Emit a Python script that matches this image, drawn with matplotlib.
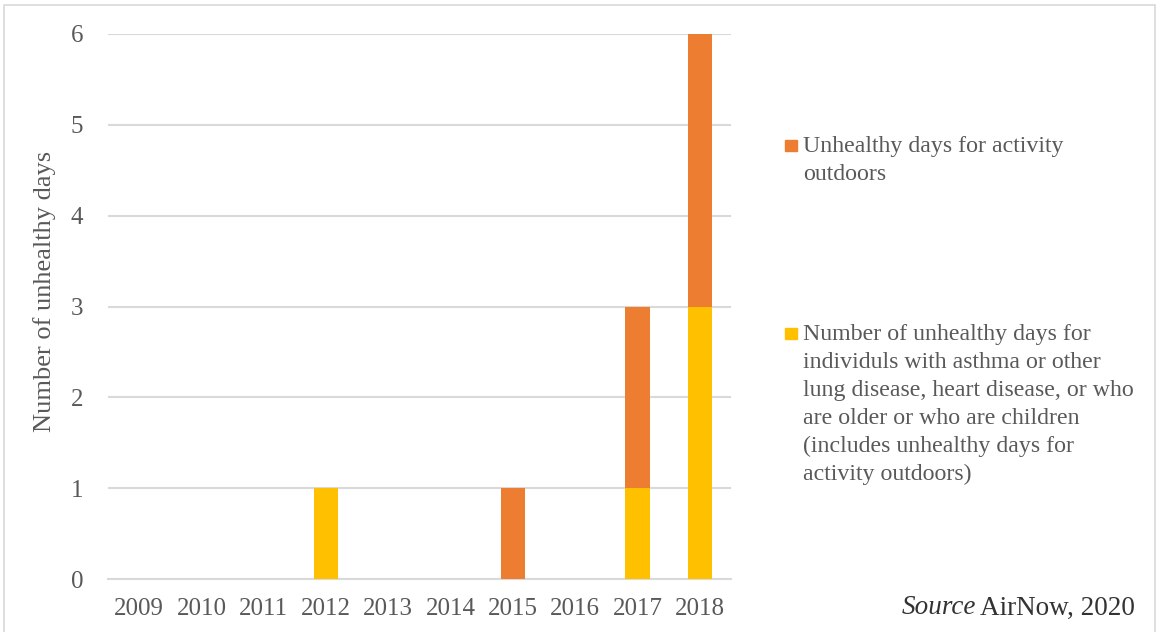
import numpy as np
import matplotlib.pyplot as plt
from matplotlib.patches import Rectangle

# Data
years = ['2009', '2010', '2011', '2012', '2013', '2014', '2015', '2016', '2017', '2018']
sensitive_days = [0, 0, 0, 1, 0, 0, 0, 0, 1, 3]   # yellow, bottom
outdoor_days = [0, 0, 0, 0, 0, 0, 1, 0, 2, 3]     # orange, top

orange = '#ED7D31'
yellow = '#FFC000'
text_gray = '#595959'
grid_gray = '#D9D9D9'

plt.rcParams['font.family'] = ['Liberation Serif', 'DejaVu Serif']

fig = plt.figure(figsize=(11.59, 6.32), dpi=100)
W, H = 1159, 632
ax = fig.add_axes([108 / W, 1 - 579 / H, (731 - 108) / W, (579 - 34) / H])

x = np.arange(len(years))
ax.bar(x, sensitive_days, width=0.39, color=yellow, zorder=3)
ax.bar(x, outdoor_days, width=0.39, bottom=sensitive_days, color=orange, zorder=3)

ax.set_xlim(-0.5, len(years) - 0.5)
ax.set_ylim(0, 6)
ax.set_yticks(range(0, 7))
ax.set_xticks(x)
ax.set_xticklabels(years)
ax.yaxis.grid(True, color=grid_gray, linewidth=1.5, zorder=0)
for s in ['top', 'right', 'left']:
    ax.spines[s].set_visible(False)
ax.spines['bottom'].set_color(grid_gray)
ax.spines['bottom'].set_linewidth(1.5)
ax.tick_params(axis='both', length=0, labelsize=18, labelcolor=text_gray)
ax.tick_params(axis='x', pad=14)
ax.tick_params(axis='y', pad=18)

# y label sits a bit above the axes centre in the original
fig.text(45 / W, 1 - 291 / H, 'Number of unhealthy days', fontsize=19,
         color=text_gray, rotation=90, ha='center', va='center')

# legend drawn by hand to match the wrapped text layout
fig.add_artist(Rectangle((785 / W, 1 - 151 / H), 12 / W, 11 / H,
                         transform=fig.transFigure, color=orange))
fig.text(803 / W, 1 - 136 / H, 'Unhealthy days for activity\noutdoors',
         fontsize=17.2, color=text_gray, va='top', ha='left', linespacing=1.43)
fig.add_artist(Rectangle((785 / W, 1 - 339 / H), 12 / W, 11 / H,
                         transform=fig.transFigure, color=yellow))
fig.text(803 / W, 1 - 324 / H,
         'Number of unhealthy days for\nindividuls with asthma or other\n'
         'lung disease, heart disease, or who\nare older or who are children\n'
         '(includes unhealthy days for\nactivity outdoors)',
         fontsize=17.2, color=text_gray, va='top', ha='left', linespacing=1.43)

fig.text(1135 / W, 1 - 608 / H, 'AirNow, 2020', fontsize=19.5,
         color='#333333', ha='right', va='center')
fig.text(976 / W, 1 - 608 / H, 'Source', fontsize=19.5, fontstyle='italic',
         color='#333333', ha='right', va='center')

# outer frame
fig.add_artist(Rectangle((4 / W, -0.01), 1151 / W, 1 - 5 / H + 0.01,
                         transform=fig.transFigure, fill=False,
                         edgecolor='#D9D9D9', linewidth=1.2))

fig.savefig('out.png', dpi=100)
